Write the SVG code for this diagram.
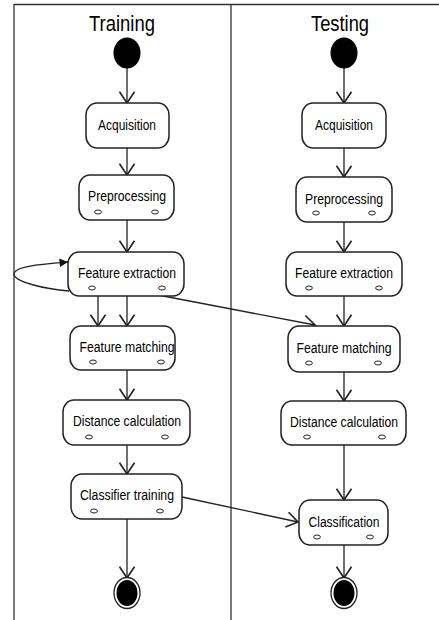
<svg xmlns="http://www.w3.org/2000/svg" width="439" height="620" viewBox="0 0 439 620">
<style>
.frame{stroke:#333;stroke-width:1.3;fill:none}
.node rect{fill:#fff;stroke:#222;stroke-width:1.5}
.node ellipse.pin{fill:#fff;stroke:#222;stroke-width:1}
.lbl{font-family:"Liberation Sans",Arial,sans-serif;font-size:14px;fill:#000;text-anchor:middle}
.title{font-family:"Liberation Sans",Arial,sans-serif;font-size:22px;fill:#000;text-anchor:middle}
.edge{stroke:#222;stroke-width:1.3;fill:none;marker-end:url(#open)}
</style>
<defs>
<marker id="open" markerUnits="userSpaceOnUse" markerWidth="20" markerHeight="20" viewBox="-10 -8 12 16" refX="0" refY="0" orient="auto">
<path d="M-9,-6 L0,0 L-9,6" fill="none" stroke="#222" stroke-width="1.3"/>
</marker>
<marker id="solid" markerUnits="userSpaceOnUse" markerWidth="12" markerHeight="12" viewBox="-8 -5 9 10" refX="0" refY="0" orient="auto">
<path d="M-7,-3.5 L0,0 L-7,3.5 Z" fill="#111"/>
</marker>
</defs>

<g id="frame">
<line class="frame" x1="14" y1="4.5" x2="439" y2="4.5"/>
<line class="frame" x1="14" y1="4" x2="14" y2="620"/>
<line class="frame" x1="231" y1="4" x2="231" y2="620"/>
<text class="title" x="122" y="31" textLength="66" lengthAdjust="spacingAndGlyphs">Training</text>
<text class="title" x="340" y="31" textLength="58" lengthAdjust="spacingAndGlyphs">Testing</text>
</g>

<g id="connectors">
<line class="edge" x1="127" y1="68" x2="127" y2="103"/>
<line class="edge" x1="127" y1="148" x2="127" y2="175"/>
<line class="edge" x1="127" y1="220" x2="127" y2="252"/>
<line class="edge" x1="98" y1="296" x2="98" y2="326"/>
<line class="edge" x1="127" y1="296" x2="127" y2="326"/>
<line class="edge" x1="127" y1="370" x2="127" y2="400"/>
<line class="edge" x1="127" y1="445" x2="127" y2="474"/>
<line class="edge" x1="127" y1="519" x2="127" y2="578"/>
<path d="M69,291 C45,289 14,282 14,274 C14,266 45,264 68,262" stroke="#222" stroke-width="1.3" fill="none" marker-end="url(#solid)"/>
<line class="edge" x1="158" y1="295" x2="315" y2="325"/>
<line class="edge" x1="182" y1="497" x2="298" y2="522"/>
<line class="edge" x1="344" y1="68" x2="344" y2="103"/>
<line class="edge" x1="344" y1="148" x2="344" y2="177"/>
<line class="edge" x1="344" y1="222" x2="344" y2="252"/>
<line class="edge" x1="344" y1="296" x2="344" y2="326"/>
<line class="edge" x1="344" y1="372" x2="344" y2="401"/>
<line class="edge" x1="344" y1="445" x2="344" y2="500"/>
<line class="edge" x1="344" y1="545" x2="344" y2="578"/>
</g>

<g id="start-training"><ellipse cx="127" cy="53" rx="13.5" ry="15.5" fill="#000"/></g>
<g id="start-testing"><ellipse cx="344" cy="53" rx="13.5" ry="15.5" fill="#000"/></g>

<g id="tr-acquisition" class="node">
<rect x="86" y="103" width="83" height="45" rx="11" ry="12"/>
<text class="lbl" x="127" y="130" textLength="58" lengthAdjust="spacingAndGlyphs">Acquisition</text>
</g>
<g id="tr-preprocessing" class="node">
<rect x="79" y="175" width="95" height="45" rx="11" ry="12"/>
<text class="lbl" x="127" y="201" textLength="78" lengthAdjust="spacingAndGlyphs">Preprocessing</text>
<ellipse class="pin" cx="98" cy="212" rx="3.4" ry="2"/>
<ellipse class="pin" cx="155" cy="212" rx="3.4" ry="2"/>
</g>
<g id="tr-feature-extraction" class="node">
<rect x="68" y="252" width="116" height="44" rx="11" ry="12"/>
<text class="lbl" x="127" y="278" textLength="98" lengthAdjust="spacingAndGlyphs">Feature extraction</text>
<ellipse class="pin" cx="92" cy="288" rx="3.4" ry="2"/>
<ellipse class="pin" cx="162" cy="288" rx="3.4" ry="2"/>
</g>
<g id="tr-feature-matching" class="node">
<rect x="70" y="326" width="105" height="44" rx="11" ry="12"/>
<text class="lbl" x="127" y="352" textLength="95" lengthAdjust="spacingAndGlyphs">Feature matching</text>
<ellipse class="pin" cx="93" cy="362" rx="3.4" ry="2"/>
<ellipse class="pin" cx="161" cy="362" rx="3.4" ry="2"/>
</g>
<g id="tr-distance-calculation" class="node">
<rect x="63" y="400" width="127" height="45" rx="11" ry="12"/>
<text class="lbl" x="127" y="426" textLength="108" lengthAdjust="spacingAndGlyphs">Distance calculation</text>
<ellipse class="pin" cx="89" cy="437" rx="3.4" ry="2"/>
<ellipse class="pin" cx="165" cy="437" rx="3.4" ry="2"/>
</g>
<g id="tr-classifier-training" class="node">
<rect x="71" y="474" width="111" height="45" rx="11" ry="12"/>
<text class="lbl" x="127" y="500" textLength="94" lengthAdjust="spacingAndGlyphs">Classifier training</text>
<ellipse class="pin" cx="94" cy="511" rx="3.4" ry="2"/>
<ellipse class="pin" cx="160" cy="511" rx="3.4" ry="2"/>
</g>

<g id="te-acquisition" class="node">
<rect x="302" y="103" width="84" height="45" rx="11" ry="12"/>
<text class="lbl" x="344" y="130" textLength="58" lengthAdjust="spacingAndGlyphs">Acquisition</text>
</g>
<g id="te-preprocessing" class="node">
<rect x="296" y="177" width="96" height="45" rx="11" ry="12"/>
<text class="lbl" x="344" y="204" textLength="78" lengthAdjust="spacingAndGlyphs">Preprocessing</text>
<ellipse class="pin" cx="316" cy="213" rx="3.4" ry="2"/>
<ellipse class="pin" cx="372" cy="213" rx="3.4" ry="2"/>
</g>
<g id="te-feature-extraction" class="node">
<rect x="286" y="252" width="116" height="44" rx="11" ry="12"/>
<text class="lbl" x="344" y="278" textLength="98" lengthAdjust="spacingAndGlyphs">Feature extraction</text>
<ellipse class="pin" cx="309" cy="288" rx="3.4" ry="2"/>
<ellipse class="pin" cx="379" cy="288" rx="3.4" ry="2"/>
</g>
<g id="te-feature-matching" class="node">
<rect x="288" y="326" width="112" height="46" rx="11" ry="12"/>
<text class="lbl" x="344" y="353" textLength="95" lengthAdjust="spacingAndGlyphs">Feature matching</text>
<ellipse class="pin" cx="309" cy="363" rx="3.4" ry="2"/>
<ellipse class="pin" cx="378" cy="363" rx="3.4" ry="2"/>
</g>
<g id="te-distance-calculation" class="node">
<rect x="281" y="401" width="125" height="44" rx="11" ry="12"/>
<text class="lbl" x="344" y="427" textLength="108" lengthAdjust="spacingAndGlyphs">Distance calculation</text>
<ellipse class="pin" cx="307" cy="437" rx="3.4" ry="2"/>
<ellipse class="pin" cx="382" cy="437" rx="3.4" ry="2"/>
</g>
<g id="te-classification" class="node">
<rect x="299" y="500" width="89" height="45" rx="11" ry="12"/>
<text class="lbl" x="344" y="527" textLength="71" lengthAdjust="spacingAndGlyphs">Classification</text>
<ellipse class="pin" cx="317" cy="537" rx="3.4" ry="2"/>
<ellipse class="pin" cx="370" cy="537" rx="3.4" ry="2"/>
</g>

<g id="end-training">
<ellipse cx="127" cy="593" rx="13" ry="15.5" fill="#fff" stroke="#222" stroke-width="1.3"/>
<ellipse cx="127" cy="593" rx="10.5" ry="13" fill="#000"/>
</g>
<g id="end-testing">
<ellipse cx="344" cy="593" rx="13" ry="15.5" fill="#fff" stroke="#222" stroke-width="1.3"/>
<ellipse cx="344" cy="593" rx="10.5" ry="13" fill="#000"/>
</g>
</svg>
